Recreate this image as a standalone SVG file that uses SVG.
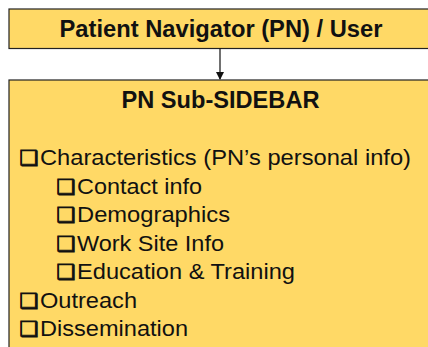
<svg xmlns="http://www.w3.org/2000/svg" width="428" height="347" viewBox="0 0 428 347">
<style>
.box{fill:#FFD966;stroke:#222;stroke-width:1.2}
.t{font-family:"Liberation Sans",Arial,sans-serif;font-size:22px;fill:#111}
.b{font-weight:bold;font-size:23px}
.cb{font-family:"DejaVu Sans",sans-serif;font-size:21px;stroke:#111;stroke-width:0.9}
</style>
<defs>
<marker id="ah" markerWidth="8" markerHeight="8" refX="7" refY="4" orient="auto" markerUnits="userSpaceOnUse">
<path d="M0,0 L8,4 L0,8 Z" fill="#111"/>
</marker>
</defs>
<rect width="428" height="347" fill="#fff"/>
<g id="pn-user">
<rect class="box" x="9" y="9" width="430" height="39.5"/>
<text class="t b" x="59.5" y="36.5" textLength="323" lengthAdjust="spacingAndGlyphs">Patient Navigator (PN) / User</text>
</g>
<g id="connectors">
<line x1="220" y1="48.5" x2="220" y2="79" stroke="#111" stroke-width="1.2" marker-end="url(#ah)"/>
</g>
<g id="pn-sidebar">
<rect class="box" x="9" y="80" width="430" height="280"/>
<text class="t b" x="121.5" y="108.3" textLength="198" lengthAdjust="spacingAndGlyphs">PN Sub-SIDEBAR</text>
<text class="t" y="165"><tspan class="cb" x="19.5">❑</tspan><tspan x="40" textLength="371" lengthAdjust="spacingAndGlyphs">Characteristics (PN’s personal info)</tspan></text>
<text class="t" y="193.5"><tspan class="cb" x="56.5">❑</tspan><tspan x="77" textLength="125" lengthAdjust="spacingAndGlyphs">Contact info</tspan></text>
<text class="t" y="222"><tspan class="cb" x="56.5">❑</tspan><tspan x="77" textLength="153" lengthAdjust="spacingAndGlyphs">Demographics</tspan></text>
<text class="t" y="250.5"><tspan class="cb" x="56.5">❑</tspan><tspan x="77" textLength="147" lengthAdjust="spacingAndGlyphs">Work Site Info</tspan></text>
<text class="t" y="279"><tspan class="cb" x="56.5">❑</tspan><tspan x="77" textLength="218" lengthAdjust="spacingAndGlyphs">Education &amp; Training</tspan></text>
<text class="t" y="307.5"><tspan class="cb" x="19.5">❑</tspan><tspan x="40" textLength="97" lengthAdjust="spacingAndGlyphs">Outreach</tspan></text>
<text class="t" y="336"><tspan class="cb" x="19.5">❑</tspan><tspan x="40" textLength="148" lengthAdjust="spacingAndGlyphs">Dissemination</tspan></text>
</g>
</svg>
